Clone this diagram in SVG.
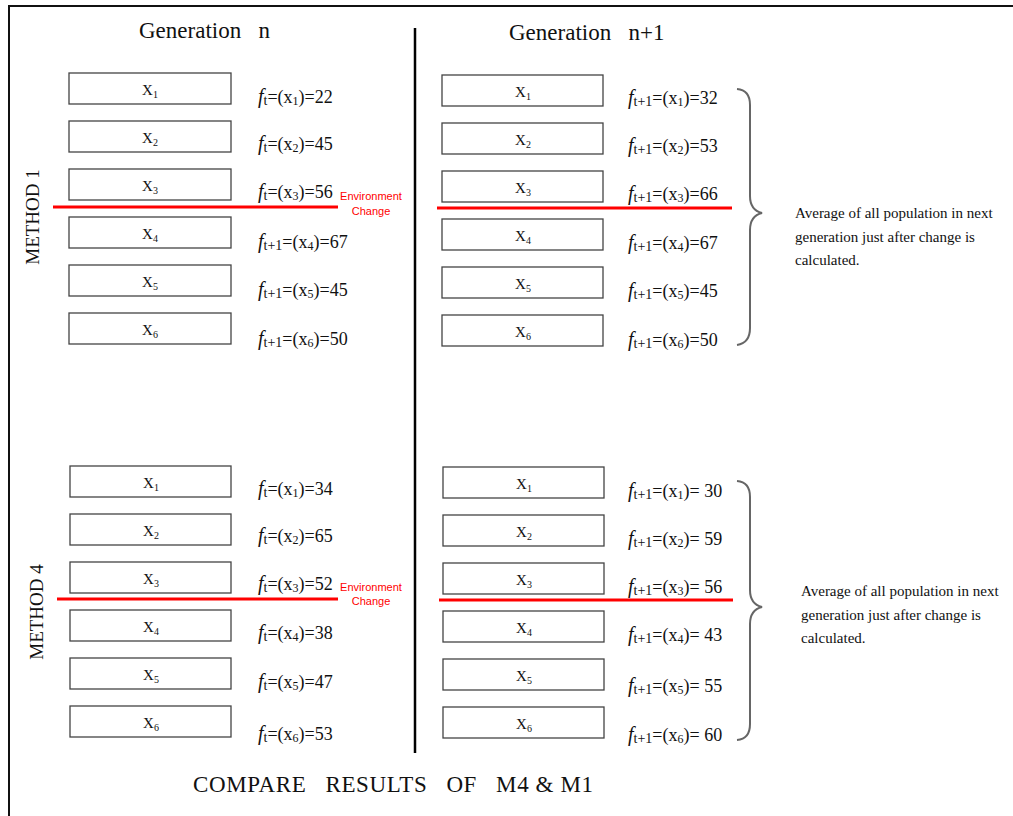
<svg xmlns="http://www.w3.org/2000/svg" width="1013" height="816" viewBox="0 0 1013 816">
<style>
.bx{fill:#fff;stroke:#444;stroke-width:1.3}
.xl{font-family:"Liberation Serif",serif;font-size:15px;text-anchor:middle;fill:#111}
.fl{font-family:"Liberation Serif",serif;font-size:18px;fill:#111}
.hd{font-family:"Liberation Serif",serif;font-size:23px;fill:#111}
.rd{stroke:#f00;stroke-width:3}
.ec{font-family:"Liberation Sans",sans-serif;font-size:11px;fill:#f00;text-anchor:middle}
.av{font-family:"Liberation Serif",serif;font-size:15px;fill:#111}
.br{fill:none;stroke:#666;stroke-width:2}
.mt{font-family:"Liberation Serif",serif;font-size:19px;fill:#111;text-anchor:middle}
.fi{font-style:italic;font-size:20px}
</style>
<rect width="1013" height="816" fill="#fff"/>
<path d="M9 816 V6 H1013" fill="none" stroke="#111" stroke-width="2"/>
<text class="hd" x="139" y="38" xml:space="preserve">Generation   n</text>
<text class="hd" x="509" y="40" xml:space="preserve">Generation   n+1</text>
<text class="mt" transform="translate(39,217) rotate(-90)">METHOD 1</text>
<text class="mt" transform="translate(43,612) rotate(-90)">METHOD 4</text>

<g id="m1-left">
<g id="m1n-x1"><rect class="bx" x="69" y="73" width="162" height="31"/><text class="xl" x="150" y="95">X<tspan font-size="10" dy="3">1</tspan></text></g>
<g id="m1n-x2"><rect class="bx" x="69" y="121" width="162" height="31"/><text class="xl" x="150" y="143">X<tspan font-size="10" dy="3">2</tspan></text></g>
<g id="m1n-x3"><rect class="bx" x="69" y="169" width="162" height="31"/><text class="xl" x="150" y="191">X<tspan font-size="10" dy="3">3</tspan></text></g>
<g id="m1n-x4"><rect class="bx" x="69" y="217" width="162" height="31"/><text class="xl" x="150" y="239">X<tspan font-size="10" dy="3">4</tspan></text></g>
<g id="m1n-x5"><rect class="bx" x="69" y="265" width="162" height="31"/><text class="xl" x="150" y="287">X<tspan font-size="10" dy="3">5</tspan></text></g>
<g id="m1n-x6"><rect class="bx" x="69" y="313" width="162" height="31"/><text class="xl" x="150" y="335">X<tspan font-size="10" dy="3">6</tspan></text></g>
<text class="fl" x="258" y="103"><tspan class="fi">f</tspan><tspan font-size="14" dy="2">t</tspan><tspan dy="-2">=(x</tspan><tspan font-size="12" dy="2">1</tspan><tspan dy="-2">)=22</tspan></text>
<text class="fl" x="258" y="150"><tspan class="fi">f</tspan><tspan font-size="14" dy="2">t</tspan><tspan dy="-2">=(x</tspan><tspan font-size="12" dy="2">2</tspan><tspan dy="-2">)=45</tspan></text>
<text class="fl" x="258" y="198"><tspan class="fi">f</tspan><tspan font-size="14" dy="2">t</tspan><tspan dy="-2">=(x</tspan><tspan font-size="12" dy="2">3</tspan><tspan dy="-2">)=56</tspan></text>
<text class="fl" x="258" y="248"><tspan class="fi">f</tspan><tspan font-size="14" dy="2">t+1</tspan><tspan dy="-2">=(x</tspan><tspan font-size="12" dy="2">4</tspan><tspan dy="-2">)=67</tspan></text>
<text class="fl" x="258" y="296"><tspan class="fi">f</tspan><tspan font-size="14" dy="2">t+1</tspan><tspan dy="-2">=(x</tspan><tspan font-size="12" dy="2">5</tspan><tspan dy="-2">)=45</tspan></text>
<text class="fl" x="258" y="345"><tspan class="fi">f</tspan><tspan font-size="14" dy="2">t+1</tspan><tspan dy="-2">=(x</tspan><tspan font-size="12" dy="2">6</tspan><tspan dy="-2">)=50</tspan></text>
</g>

<g id="m1-right">
<g id="m1n1-x1"><rect class="bx" x="442" y="75" width="161" height="31"/><text class="xl" x="523" y="97">X<tspan font-size="10" dy="3">1</tspan></text></g>
<g id="m1n1-x2"><rect class="bx" x="442" y="123" width="161" height="31"/><text class="xl" x="523" y="145">X<tspan font-size="10" dy="3">2</tspan></text></g>
<g id="m1n1-x3"><rect class="bx" x="442" y="171" width="161" height="31"/><text class="xl" x="523" y="193">X<tspan font-size="10" dy="3">3</tspan></text></g>
<g id="m1n1-x4"><rect class="bx" x="442" y="219" width="161" height="31"/><text class="xl" x="523" y="241">X<tspan font-size="10" dy="3">4</tspan></text></g>
<g id="m1n1-x5"><rect class="bx" x="442" y="267" width="161" height="31"/><text class="xl" x="523" y="289">X<tspan font-size="10" dy="3">5</tspan></text></g>
<g id="m1n1-x6"><rect class="bx" x="442" y="315" width="161" height="31"/><text class="xl" x="523" y="337">X<tspan font-size="10" dy="3">6</tspan></text></g>
<text class="fl" x="628" y="104"><tspan class="fi">f</tspan><tspan font-size="14" dy="2">t+1</tspan><tspan dy="-2">=(x</tspan><tspan font-size="12" dy="2">1</tspan><tspan dy="-2">)=32</tspan></text>
<text class="fl" x="628" y="152"><tspan class="fi">f</tspan><tspan font-size="14" dy="2">t+1</tspan><tspan dy="-2">=(x</tspan><tspan font-size="12" dy="2">2</tspan><tspan dy="-2">)=53</tspan></text>
<text class="fl" x="628" y="200"><tspan class="fi">f</tspan><tspan font-size="14" dy="2">t+1</tspan><tspan dy="-2">=(x</tspan><tspan font-size="12" dy="2">3</tspan><tspan dy="-2">)=66</tspan></text>
<text class="fl" x="628" y="249"><tspan class="fi">f</tspan><tspan font-size="14" dy="2">t+1</tspan><tspan dy="-2">=(x</tspan><tspan font-size="12" dy="2">4</tspan><tspan dy="-2">)=67</tspan></text>
<text class="fl" x="628" y="297"><tspan class="fi">f</tspan><tspan font-size="14" dy="2">t+1</tspan><tspan dy="-2">=(x</tspan><tspan font-size="12" dy="2">5</tspan><tspan dy="-2">)=45</tspan></text>
<text class="fl" x="628" y="346"><tspan class="fi">f</tspan><tspan font-size="14" dy="2">t+1</tspan><tspan dy="-2">=(x</tspan><tspan font-size="12" dy="2">6</tspan><tspan dy="-2">)=50</tspan></text>
</g>

<g id="m4-left">
<g id="m4n-x1"><rect class="bx" x="70" y="466" width="161" height="31"/><text class="xl" x="151" y="488">X<tspan font-size="10" dy="3">1</tspan></text></g>
<g id="m4n-x2"><rect class="bx" x="70" y="514" width="161" height="31"/><text class="xl" x="151" y="536">X<tspan font-size="10" dy="3">2</tspan></text></g>
<g id="m4n-x3"><rect class="bx" x="70" y="562" width="161" height="31"/><text class="xl" x="151" y="584">X<tspan font-size="10" dy="3">3</tspan></text></g>
<g id="m4n-x4"><rect class="bx" x="70" y="610" width="161" height="31"/><text class="xl" x="151" y="632">X<tspan font-size="10" dy="3">4</tspan></text></g>
<g id="m4n-x5"><rect class="bx" x="70" y="658" width="161" height="31"/><text class="xl" x="151" y="680">X<tspan font-size="10" dy="3">5</tspan></text></g>
<g id="m4n-x6"><rect class="bx" x="70" y="706" width="161" height="31"/><text class="xl" x="151" y="728">X<tspan font-size="10" dy="3">6</tspan></text></g>
<text class="fl" x="258" y="495"><tspan class="fi">f</tspan><tspan font-size="14" dy="2">t</tspan><tspan dy="-2">=(x</tspan><tspan font-size="12" dy="2">1</tspan><tspan dy="-2">)=34</tspan></text>
<text class="fl" x="258" y="542"><tspan class="fi">f</tspan><tspan font-size="14" dy="2">t</tspan><tspan dy="-2">=(x</tspan><tspan font-size="12" dy="2">2</tspan><tspan dy="-2">)=65</tspan></text>
<text class="fl" x="258" y="590"><tspan class="fi">f</tspan><tspan font-size="14" dy="2">t</tspan><tspan dy="-2">=(x</tspan><tspan font-size="12" dy="2">3</tspan><tspan dy="-2">)=52</tspan></text>
<text class="fl" x="258" y="639"><tspan class="fi">f</tspan><tspan font-size="14" dy="2">t</tspan><tspan dy="-2">=(x</tspan><tspan font-size="12" dy="2">4</tspan><tspan dy="-2">)=38</tspan></text>
<text class="fl" x="258" y="688"><tspan class="fi">f</tspan><tspan font-size="14" dy="2">t</tspan><tspan dy="-2">=(x</tspan><tspan font-size="12" dy="2">5</tspan><tspan dy="-2">)=47</tspan></text>
<text class="fl" x="258" y="740"><tspan class="fi">f</tspan><tspan font-size="14" dy="2">t</tspan><tspan dy="-2">=(x</tspan><tspan font-size="12" dy="2">6</tspan><tspan dy="-2">)=53</tspan></text>
</g>

<g id="m4-right">
<g id="m4n1-x1"><rect class="bx" x="443" y="467" width="161" height="31"/><text class="xl" x="524" y="489">X<tspan font-size="10" dy="3">1</tspan></text></g>
<g id="m4n1-x2"><rect class="bx" x="443" y="515" width="161" height="31"/><text class="xl" x="524" y="537">X<tspan font-size="10" dy="3">2</tspan></text></g>
<g id="m4n1-x3"><rect class="bx" x="443" y="563" width="161" height="31"/><text class="xl" x="524" y="585">X<tspan font-size="10" dy="3">3</tspan></text></g>
<g id="m4n1-x4"><rect class="bx" x="443" y="611" width="161" height="31"/><text class="xl" x="524" y="633">X<tspan font-size="10" dy="3">4</tspan></text></g>
<g id="m4n1-x5"><rect class="bx" x="443" y="659" width="161" height="31"/><text class="xl" x="524" y="681">X<tspan font-size="10" dy="3">5</tspan></text></g>
<g id="m4n1-x6"><rect class="bx" x="443" y="707" width="161" height="31"/><text class="xl" x="524" y="729">X<tspan font-size="10" dy="3">6</tspan></text></g>
<text class="fl" x="628" y="497"><tspan class="fi">f</tspan><tspan font-size="14" dy="2">t+1</tspan><tspan dy="-2">=(x</tspan><tspan font-size="12" dy="2">1</tspan><tspan dy="-2">)= 30</tspan></text>
<text class="fl" x="628" y="545"><tspan class="fi">f</tspan><tspan font-size="14" dy="2">t+1</tspan><tspan dy="-2">=(x</tspan><tspan font-size="12" dy="2">2</tspan><tspan dy="-2">)= 59</tspan></text>
<text class="fl" x="628" y="593"><tspan class="fi">f</tspan><tspan font-size="14" dy="2">t+1</tspan><tspan dy="-2">=(x</tspan><tspan font-size="12" dy="2">3</tspan><tspan dy="-2">)= 56</tspan></text>
<text class="fl" x="628" y="641"><tspan class="fi">f</tspan><tspan font-size="14" dy="2">t+1</tspan><tspan dy="-2">=(x</tspan><tspan font-size="12" dy="2">4</tspan><tspan dy="-2">)= 43</tspan></text>
<text class="fl" x="628" y="692"><tspan class="fi">f</tspan><tspan font-size="14" dy="2">t+1</tspan><tspan dy="-2">=(x</tspan><tspan font-size="12" dy="2">5</tspan><tspan dy="-2">)= 55</tspan></text>
<text class="fl" x="628" y="741"><tspan class="fi">f</tspan><tspan font-size="14" dy="2">t+1</tspan><tspan dy="-2">=(x</tspan><tspan font-size="12" dy="2">6</tspan><tspan dy="-2">)= 60</tspan></text>
</g>

<g id="connectors">
<line x1="415" y1="28" x2="415" y2="753" stroke="#000" stroke-width="2.5"/>
<line class="rd" x1="53" y1="207" x2="338" y2="207"/>
<line class="rd" x1="437" y1="208" x2="732" y2="208"/>
<line class="rd" x1="57" y1="599" x2="338" y2="599"/>
<line class="rd" x1="439" y1="600" x2="733" y2="600"/>
<path class="br" d="M737 89 Q750 90 750 105 V196 Q750 210 762 213 Q750 216 750 230 V328 Q750 343 737 345"/>
<path class="br" d="M737 481 Q750 482 750 497 V590 Q750 604 762 607 Q750 610 750 624 V724 Q750 739 737 740"/>
</g>

<g id="notes">
<text class="ec" x="371" y="200">Environment</text>
<text class="ec" x="371" y="215">Change</text>
<text class="ec" x="371" y="591">Environment</text>
<text class="ec" x="371" y="605">Change</text>
<text class="av" x="795" y="218">Average of all population in next</text>
<text class="av" x="795" y="242">generation just after change is</text>
<text class="av" x="795" y="265">calculated.</text>
<text class="av" x="801" y="596">Average of all population in next</text>
<text class="av" x="801" y="620">generation just after change is</text>
<text class="av" x="801" y="643">calculated.</text>
<text class="hd" x="193" y="792" font-size="26" xml:space="preserve" textLength="400" lengthAdjust="spacing">COMPARE   RESULTS   OF   M4 &amp; M1</text>
</g>
</svg>
